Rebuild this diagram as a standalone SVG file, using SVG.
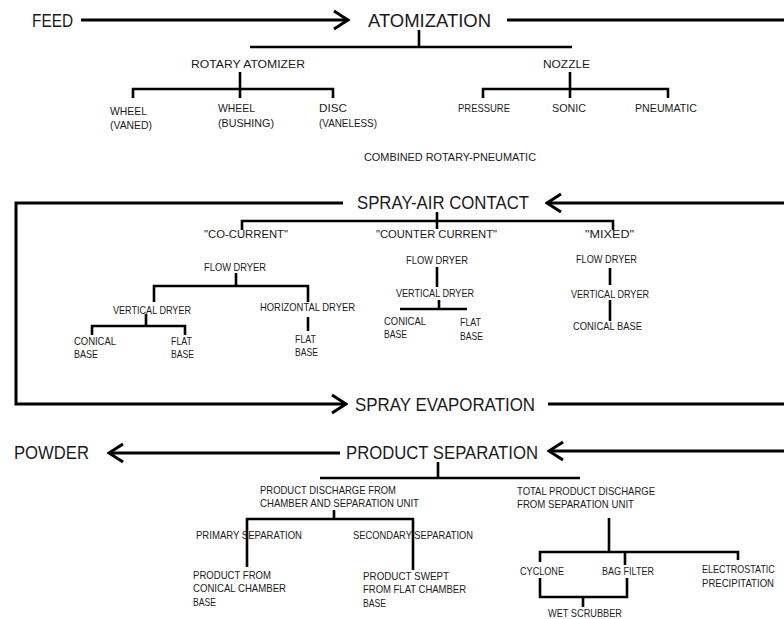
<svg xmlns="http://www.w3.org/2000/svg" width="784" height="619" viewBox="0 0 784 619">
  <defs>
    <style>
      text { font-family: "Liberation Sans", Arial, sans-serif; fill: #1a1a1a; }
      .big { font-size: 19px; }
      .sm { font-size: 11px; }
      .ln { stroke: #000; stroke-width: 3; fill: none; }
      .tr { stroke: #000; stroke-width: 2.6; fill: none; }
    </style>
    <marker id="chev" markerUnits="userSpaceOnUse" viewBox="0 0 18 22" refX="16" refY="11" markerWidth="18" markerHeight="22" orient="auto">
      <path d="M2,2 L16,11 L2,20" stroke="#000" stroke-width="3" fill="none"/>
    </marker>
  </defs>
  <rect width="784" height="619" fill="#fff"/>

  <!-- main process flow and tree connectors -->
  <g id="connectors">
    <!-- main flow -->
    <path class="ln" d="M81,20 H348" marker-end="url(#chev)"/>
    <path class="ln" d="M507,20 H784"/>
    <path class="ln" d="M784,203 H547" marker-end="url(#chev)"/>
    <path class="ln" d="M343,203 H16 V404 H346" marker-end="url(#chev)"/>
    <path class="ln" d="M548,404 H784"/>
    <path class="ln" d="M784,451 H549" marker-end="url(#chev)"/>
    <path class="ln" d="M340,453 H109" marker-end="url(#chev)"/>

    <!-- atomization tree -->
    <path class="tr" d="M419,30 V47 M250,47 H572"/>
    <path class="tr" d="M240,72 V98 M133,98 V89 H333 V98"/>
    <path class="tr" d="M570,72 V98 M483,98 V89 H668 V98"/>

    <!-- spray-air contact tree -->
    <path class="tr" d="M437,212 V229 M242,230 V221 H613 V230"/>
    <path class="tr" d="M236,273 V286 M154,302 V286 H308 V302"/>
    <path class="tr" d="M146,314 V326 M92,335 V326 H185 V335"/>
    <path class="tr" d="M308,317 V331"/>
    <path class="tr" d="M437,267 V287"/>
    <path class="tr" d="M439,300 V309 M400,309 H467"/>
    <path class="tr" d="M610,268 V285 M610,300 V321"/>

    <!-- product separation tree -->
    <path class="tr" d="M438,462 V478 M320,478 H580"/>
    <path class="tr" d="M334,510 V519 M247,567 V519 H413 V570"/>
    <path class="tr" d="M609,518 V552 M540,562 V552 H738 V560 M625,552 V565"/>
    <path class="tr" d="M540,578 V597 H627 V578 M583,597 V607"/>
  </g>

  <!-- main stages -->
  <g id="feed"><text class="big" x="32" y="27" textLength="41" lengthAdjust="spacingAndGlyphs">FEED</text></g>
  <g id="atomization"><text class="big" x="368" y="27" textLength="123" lengthAdjust="spacingAndGlyphs">ATOMIZATION</text></g>
  <g id="spray-air-contact"><text class="big" x="357" y="209" textLength="172" lengthAdjust="spacingAndGlyphs">SPRAY-AIR CONTACT</text></g>
  <g id="spray-evaporation"><text class="big" x="355" y="411" textLength="180" lengthAdjust="spacingAndGlyphs">SPRAY EVAPORATION</text></g>
  <g id="powder"><text class="big" x="14" y="459" textLength="75" lengthAdjust="spacingAndGlyphs">POWDER</text></g>
  <g id="product-separation"><text class="big" x="346" y="459" textLength="192" lengthAdjust="spacingAndGlyphs">PRODUCT SEPARATION</text></g>

  <!-- atomizer types -->
  <g id="rotary-atomizer"><text class="sm" x="191" y="68" textLength="114" lengthAdjust="spacingAndGlyphs">ROTARY ATOMIZER</text></g>
  <g id="wheel-vaned">
    <text class="sm" x="110" y="115" textLength="37" lengthAdjust="spacingAndGlyphs">WHEEL</text>
    <text class="sm" x="110" y="129" textLength="42" lengthAdjust="spacingAndGlyphs">(VANED)</text>
  </g>
  <g id="wheel-bushing">
    <text class="sm" x="218" y="112" textLength="37" lengthAdjust="spacingAndGlyphs">WHEEL</text>
    <text class="sm" x="218" y="127" textLength="56" lengthAdjust="spacingAndGlyphs">(BUSHING)</text>
  </g>
  <g id="disc-vaneless">
    <text class="sm" x="319" y="112" textLength="28" lengthAdjust="spacingAndGlyphs">DISC</text>
    <text class="sm" x="319" y="127" textLength="58" lengthAdjust="spacingAndGlyphs">(VANELESS)</text>
  </g>
  <g id="nozzle"><text class="sm" x="543" y="68" textLength="47" lengthAdjust="spacingAndGlyphs">NOZZLE</text></g>
  <g id="pressure"><text class="sm" x="458" y="112" textLength="52" lengthAdjust="spacingAndGlyphs">PRESSURE</text></g>
  <g id="sonic"><text class="sm" x="552" y="112" textLength="34" lengthAdjust="spacingAndGlyphs">SONIC</text></g>
  <g id="pneumatic"><text class="sm" x="635" y="112" textLength="62" lengthAdjust="spacingAndGlyphs">PNEUMATIC</text></g>
  <g id="combined"><text class="sm" x="364" y="161" textLength="172" lengthAdjust="spacingAndGlyphs">COMBINED ROTARY-PNEUMATIC</text></g>

  <!-- contact modes -->
  <g id="co-current"><text class="sm" x="204" y="238" textLength="84" lengthAdjust="spacingAndGlyphs">"CO-CURRENT"</text></g>
  <g id="counter-current"><text class="sm" x="376" y="238" textLength="121" lengthAdjust="spacingAndGlyphs">"COUNTER CURRENT"</text></g>
  <g id="mixed"><text class="sm" x="585" y="238" textLength="49" lengthAdjust="spacingAndGlyphs">"MIXED"</text></g>

  <g id="co-flow-dryer"><text class="sm" x="204" y="271" textLength="62" lengthAdjust="spacingAndGlyphs">FLOW DRYER</text></g>
  <g id="co-vertical-dryer"><text class="sm" x="113" y="314" textLength="78" lengthAdjust="spacingAndGlyphs">VERTICAL DRYER</text></g>
  <g id="co-horizontal-dryer"><text class="sm" x="260" y="311" textLength="95" lengthAdjust="spacingAndGlyphs">HORIZONTAL DRYER</text></g>
  <g id="co-conical-base">
    <text class="sm" x="74" y="345" textLength="42" lengthAdjust="spacingAndGlyphs">CONICAL</text>
    <text class="sm" x="74" y="358" textLength="24" lengthAdjust="spacingAndGlyphs">BASE</text>
  </g>
  <g id="co-flat-base">
    <text class="sm" x="171" y="345" textLength="21" lengthAdjust="spacingAndGlyphs">FLAT</text>
    <text class="sm" x="171" y="358" textLength="23" lengthAdjust="spacingAndGlyphs">BASE</text>
  </g>
  <g id="co-horizontal-flat-base">
    <text class="sm" x="295" y="343" textLength="21" lengthAdjust="spacingAndGlyphs">FLAT</text>
    <text class="sm" x="295" y="356" textLength="23" lengthAdjust="spacingAndGlyphs">BASE</text>
  </g>

  <g id="cc-flow-dryer"><text class="sm" x="406" y="264" textLength="62" lengthAdjust="spacingAndGlyphs">FLOW DRYER</text></g>
  <g id="cc-vertical-dryer"><text class="sm" x="396" y="297" textLength="78" lengthAdjust="spacingAndGlyphs">VERTICAL DRYER</text></g>
  <g id="cc-conical-base">
    <text class="sm" x="384" y="325" textLength="42" lengthAdjust="spacingAndGlyphs">CONICAL</text>
    <text class="sm" x="384" y="338" textLength="23" lengthAdjust="spacingAndGlyphs">BASE</text>
  </g>
  <g id="cc-flat-base">
    <text class="sm" x="460" y="326" textLength="21" lengthAdjust="spacingAndGlyphs">FLAT</text>
    <text class="sm" x="460" y="340" textLength="23" lengthAdjust="spacingAndGlyphs">BASE</text>
  </g>

  <g id="mx-flow-dryer"><text class="sm" x="576" y="263" textLength="61" lengthAdjust="spacingAndGlyphs">FLOW DRYER</text></g>
  <g id="mx-vertical-dryer"><text class="sm" x="571" y="298" textLength="78" lengthAdjust="spacingAndGlyphs">VERTICAL DRYER</text></g>
  <g id="mx-conical-base"><text class="sm" x="573" y="330" textLength="69" lengthAdjust="spacingAndGlyphs">CONICAL BASE</text></g>

  <!-- separation -->
  <g id="discharge-chamber">
    <text class="sm" x="260" y="494" textLength="136" lengthAdjust="spacingAndGlyphs">PRODUCT DISCHARGE FROM</text>
    <text class="sm" x="260" y="507" textLength="159" lengthAdjust="spacingAndGlyphs">CHAMBER AND SEPARATION UNIT</text>
  </g>
  <g id="primary-separation"><text class="sm" x="196" y="539" textLength="106" lengthAdjust="spacingAndGlyphs">PRIMARY SEPARATION</text></g>
  <g id="secondary-separation"><text class="sm" x="353" y="539" textLength="120" lengthAdjust="spacingAndGlyphs">SECONDARY SEPARATION</text></g>
  <g id="product-conical">
    <text class="sm" x="193" y="579" textLength="78" lengthAdjust="spacingAndGlyphs">PRODUCT FROM</text>
    <text class="sm" x="193" y="592" textLength="93" lengthAdjust="spacingAndGlyphs">CONICAL CHAMBER</text>
    <text class="sm" x="193" y="606" textLength="23" lengthAdjust="spacingAndGlyphs">BASE</text>
  </g>
  <g id="product-flat">
    <text class="sm" x="363" y="580" textLength="86" lengthAdjust="spacingAndGlyphs">PRODUCT SWEPT</text>
    <text class="sm" x="363" y="593" textLength="103" lengthAdjust="spacingAndGlyphs">FROM FLAT CHAMBER</text>
    <text class="sm" x="363" y="607" textLength="23" lengthAdjust="spacingAndGlyphs">BASE</text>
  </g>
  <g id="discharge-separation">
    <text class="sm" x="517" y="495" textLength="138" lengthAdjust="spacingAndGlyphs">TOTAL PRODUCT DISCHARGE</text>
    <text class="sm" x="517" y="508" textLength="117" lengthAdjust="spacingAndGlyphs">FROM SEPARATION UNIT</text>
  </g>
  <g id="cyclone"><text class="sm" x="520" y="575" textLength="44" lengthAdjust="spacingAndGlyphs">CYCLONE</text></g>
  <g id="bag-filter"><text class="sm" x="602" y="575" textLength="52" lengthAdjust="spacingAndGlyphs">BAG FILTER</text></g>
  <!-- narrow label near the right edge: squeezed horizontally so it stays inside -->
  <g id="electrostatic" transform="translate(702,0) scale(0.8,1)">
    <text class="sm" x="0" y="573" textLength="91" lengthAdjust="spacingAndGlyphs">ELECTROSTATIC</text>
    <text class="sm" x="0" y="587" textLength="90" lengthAdjust="spacingAndGlyphs">PRECIPITATION</text>
  </g>
  <g id="wet-scrubber"><text class="sm" x="548" y="617" textLength="74" lengthAdjust="spacingAndGlyphs">WET SCRUBBER</text></g>
</svg>
